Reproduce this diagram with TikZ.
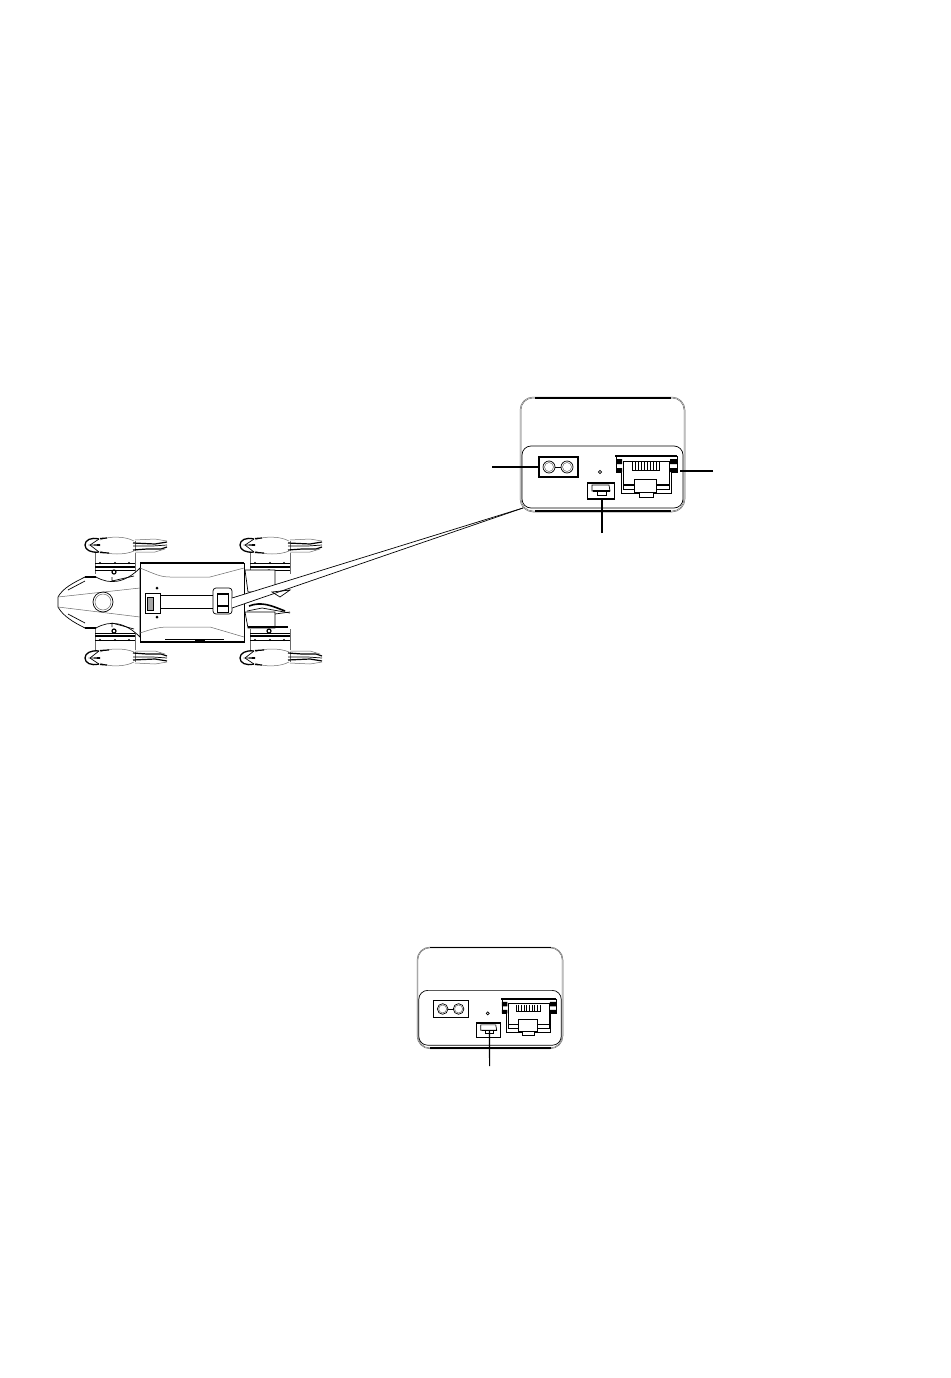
\documentclass[tikz,border=0pt]{standalone}
\usetikzlibrary{positioning}
\definecolor{mThinGrey}{HTML}{6A6A6A}
\tikzset{
  thinl/.style={line width=0.5pt, draw=mThinGrey},
  midl/.style={line width=0.7pt, draw=black},
  boldl/.style={line width=1.2pt, draw=black},
  leader/.style={line width=1.2pt, draw=black},
  portpanel/.pic={
    % shell
    \draw[thinl, rounded corners=13] (0,0) rectangle (165,115);
    \draw[thinl, rounded corners=12] (1,1) rectangle (164,114);
    \draw[boldl] (15,1) -- (151,1);
    \draw[boldl] (15,114) -- (151,114);
    \draw[midl, rounded corners=9] (2,49) rectangle (163,111);
    % power socket
    \draw[boldl, fill=white] (19,60) rectangle (58,80);
    \draw[midl] (29,70) circle[radius=6] (47,70) circle[radius=6];
    \draw[thinl] (29,70) circle[radius=4.5] (47,70) circle[radius=4.5];
    \draw[midl] (35,70) -- (41,70);
    \coordinate (-power) at (19,70);
    % led
    \draw[midl] (80,75) circle[radius=1.7];
    % micro usb
    \draw[midl] (67,85) rectangle (94,102);
    \draw[boldl] (67,86) -- (94,86) (67,102) -- (94,102);
    \draw[midl] (72,88) -- (89,88) -- (90,94) -- (72,94) -- cycle;
    \draw[boldl] (73,94) -- (90,94);
    \draw[midl] (77,94) -- (77,98) -- (86,98) -- (86,94);
    \coordinate (-usbfoot) at (82,102);
    \coordinate (-usbslot) at (82,94);
    % rj45
    \draw[line width=1.8pt] (95,59) -- (157,59);
    \draw[midl] (96,59) -- (96,75) -- (101,75) -- (101,96) -- (151,96) -- (151,75) -- (157,75) -- (157,59);
    \fill (96,62) rectangle (102,67) (96,71) rectangle (102,75) (150,62) rectangle (157,67) (150,71) rectangle (157,75);
    \draw[midl] (103,64) -- (149,64) -- (149,92) -- (103,92) -- cycle;
    \foreach \px in {112,115,...,139}
      \draw[midl] (\px,65) -- (\px,73);
    \draw[midl] (112,73) -- (140,73);
    \draw[boldl] (103,88) -- (114,88) (136,88) -- (149,88);
    \draw[midl, fill=white] (114,82) rectangle (136,95);
    \draw[midl, fill=white] (119,95) rectangle (133,100);
    \coordinate (-corner) at (3,111);
  },
  wheelpod/.pic={
    % foot
    \draw[thinl] (15,2) .. controls (24,-2) and (40,-2) .. (49,3);
    \draw[thinl] (15,13) .. controls (24,17) and (40,17) .. (49,13);
    \draw[thinl] (50,3) -- (50,13);
    \draw[line width=1.3pt] (14,1) .. controls (6,-1) and (0,2) .. (0,7) .. controls (0,12) and (6,15) .. (14,14);
    \draw[midl] (14,1) -- (5,7) -- (14,14);
    \fill (3,7) -- (15,6) -- (15,8) -- cycle;
    \draw[boldl] (15,0.5) -- (22,0) (15,14.5) -- (24,15);
    \draw[boldl] (48,5) -- (70,6) -- (82,4);
    \draw[midl] (48,8) -- (68,8) -- (82,7);
    \draw[boldl] (48,12) -- (62,11) -- (76,11) -- (82,9);
    \draw[thinl] (50,2) -- (70,1) -- (82,3) (50,14) -- (70,14) -- (80,11);
    % leg
    \draw[thinl] (10,15) -- (10,36) (50,15) -- (50,36);
    \draw[boldl] (10,29) -- (50,29);
    \draw[midl] (10,32) -- (50,32);
    \fill (15,25) circle[radius=1.1] (30,25) circle[radius=1.1] (44,25) circle[radius=1.1];
    \fill (10,25) rectangle (50,25.4);
    \draw[line width=1.2pt, fill=white] (29,34) circle[radius=2];
  }
}
\begin{document}
\begin{tikzpicture}[x=1pt, y=-1pt]
  \useasboundingbox[fill=white] (0,0) rectangle (950,1378);

  \pic at (85,538) {wheelpod};
  \pic at (240,538) {wheelpod};
  \pic[yscale=-1] at (85,665) {wheelpod};
  \pic[yscale=-1] at (240,665) {wheelpod};

  % head
  \draw[midl, fill=white] (85,577) .. controls (73,583) and (63,588) .. (58,597) -- (58,607)
    .. controls (63,616) and (73,622) .. (85,628) -- (96,628)
    .. controls (110,620) and (125,622) .. (140,637) -- (140,568)
    .. controls (125,583) and (110,585) .. (96,577) -- cycle;
  \draw[boldl] (85,577) -- (96,577) (85,628) -- (96,628);
  \draw[thinl] (58,597) -- (140,588) (58,607) -- (140,617);
  \draw[midl] (103,602) circle[radius=10];
  \draw[thinl] (103,602) circle[radius=8];
  \draw[midl] (68,590) -- (85,581) (68,614) -- (85,623);
  \draw[midl] (112,577) -- (112,581) -- (134,576) (112,627) -- (112,623) -- (134,629);

  % body
  \draw[midl, fill=white] (140,563) rectangle (244,642);
  \draw[boldl] (140,563) -- (244,563) (140,642) -- (244,642);
  \draw[thinl] (140,568) .. controls (155,574) and (160,577) .. (170,577) -- (210,577) -- (244,568);
  \draw[thinl] (140,633) .. controls (155,628) and (160,627) .. (170,627) -- (210,627) -- (244,637);
  \draw[midl] (165,639) -- (224,639);
  \draw[boldl] (195,640) -- (205,640);
  \fill (157,588) circle[radius=1.5] (157,617) circle[radius=1.5];
  \draw[midl] (145,593) rectangle (160,613);
  \draw[midl, fill=mThinGrey!60] (147,597) rectangle (153,610);
  \draw[midl] (160,595) -- (213,595) (160,608) -- (213,608);

  % strap loop
  \node[midl, rounded corners=3, fill=white, minimum width=19pt, minimum height=26pt, inner sep=0pt] (loop) at (222.5,601) {};
  \draw[midl] (217,593) rectangle (228,612);
  \draw[boldl] (217,594) -- (228,594) (217,606) -- (228,606);

  % right side blocks
  \draw[midl, fill=white] (245,570) -- (275,570) -- (275,592) -- (248,592) -- cycle;
  \draw[midl, fill=white] (245,612) -- (275,612) -- (275,628) -- (248,628) -- cycle;
  \draw[boldl] (248,627) -- (288,627);
  \draw[midl] (275,614) -- (290,612);
  \draw[thinl] (275,592) -- (290,590);

  \pic (big) at (520,397) {portpanel};
  \pic[scale=0.885] (small) at (417,947) {portpanel};

  % wedge to the enlarged view
  \fill[white] (232,598) -- (big-corner) -- (232,608) -- cycle;
  \draw[midl] (232,598) -- (big-corner);
  \draw[midl] (232,608) -- (big-corner);

  % cable
  \draw[line width=1.6pt] (249,606) .. controls (262,601) and (272,606) .. (285,611);
  \draw[midl] (247,611) -- (262,608) -- (290,613);
  \draw[midl] (272,592) -- (290,590) -- (280,597) -- cycle;

  \coordinate[left=47pt of big-power] (powertip);
  \coordinate (rjtip) at (713,471);
  \coordinate (rjside) at (680,471);
  \coordinate (usbtip) at (602,533);
  \coordinate (smalltip) at (489.6,1066);

  \draw[leader] (powertip) -- (big-power);
  \draw[leader] (rjtip) -- (rjside);
  \draw[leader] (usbtip) -- (big-usbfoot);
  \draw[leader] (smalltip) -- (small-usbslot);
\end{tikzpicture}
\end{document}
